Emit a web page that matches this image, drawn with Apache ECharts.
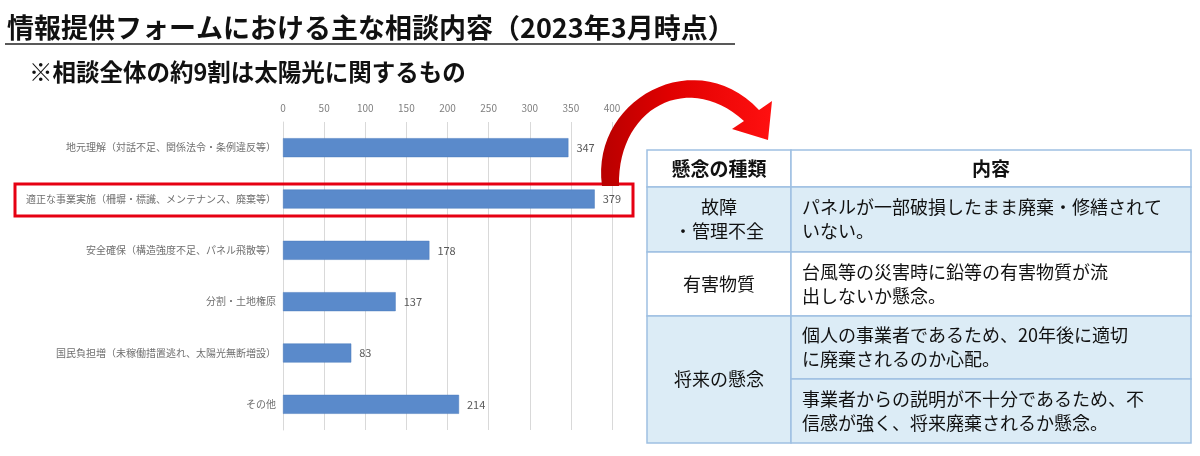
<!DOCTYPE html>
<html>
<head>
<meta charset="utf-8">
<script src="https://cdn.jsdelivr.net/npm/echarts@6/dist/echarts.min.js"></script>
<style>
html,body{margin:0;padding:0;background:#fff;}
#main{width:1200px;height:456px;}
</style>
</head>
<body>
<div id="main"></div>
<script>
// 相談内容の分類と件数
var categories = [
    '地元理解（対話不足、関係法令・条例違反等）',
    '適正な事業実施（柵塀・標識、メンテナンス、廃棄等）',
    '安全確保（構造強度不足、パネル飛散等）',
    '分割・土地権原',
    '国民負担増（未稼働措置逃れ、太陽光無断増設）',
    'その他'
];
var counts = [347, 379, 178, 137, 83, 214];
var tickMax = 400, tickStep = 50;

// 右の表
var tableHead = ['懸念の種類', '内容'];
var tableKinds = ['故障\n・管理不全', '有害物質', '将来の懸念'];
var tableTexts = [
    'パネルが一部破損したまま廃棄・修繕されて\nいない。',
    '台風等の災害時に鉛等の有害物質が流\n出しないか懸念。',
    '個人の事業者であるため、20年後に適切\nに廃棄されるのか心配。',
    '事業者からの説明が不十分であるため、不\n信感が強く、将来廃棄されるか懸念。'
];

var FONT = '"Noto Sans CJK JP", "Noto Sans", sans-serif';
var chart = echarts.init(document.getElementById('main'));

/*表の描画用*/
var tx0 = 647, tx1 = 791, tx2 = 1191;
var rowY = [150, 187, 252, 316, 379, 443];
var lineC = '#9ec0e2', fillC = '#dcecf6';

function cell(x, y, w, h, fill) {
    return {
        type: 'rect', z: 10,
        shape: {x: x, y: y, width: w, height: h},
        style: {fill: fill, stroke: lineC, lineWidth: 1.5}
    };
}
function txt(x, y, s, opt) {
    opt = opt || {};
    return {
        type: 'text', z: 11,
        style: {
            x: x, y: y, text: s,
            font: (opt.bold ? 'bold ' : '') + (opt.size || 18) + 'px ' + FONT,
            fill: '#111',
            textAlign: opt.align || 'left',
            textVerticalAlign: opt.valign || 'middle',
            lineHeight: opt.lh || 24
        }
    };
}

// 矢印の曲線（ベジェ曲線を点列に）
function bez(p0, p1, p2, p3, n) {
    var pts = [];
    for (var k = 0; k <= n; k++) {
        var t = k / n, u = 1 - t;
        pts.push([
            u*u*u*p0[0] + 3*u*u*t*p1[0] + 3*u*t*t*p2[0] + t*t*t*p3[0],
            u*u*u*p0[1] + 3*u*u*t*p1[1] + 3*u*t*t*p2[1] + t*t*t*p3[1]
        ]);
    }
    return pts;
}
var arrowPts = bez([602, 186], [590, 100], [695, 42], [759, 110], 30)
    .concat([[772, 101], [768, 140], [732, 129], [744, 121]])
    .concat(bez([744, 121], [688, 70], [617, 108], [619, 186], 30));

var tableEls = [];
// 背景
tableEls.push(cell(tx0, rowY[0], tx1 - tx0, rowY[1] - rowY[0], '#fff'));
tableEls.push(cell(tx1, rowY[0], tx2 - tx1, rowY[1] - rowY[0], '#fff'));
tableEls.push(cell(tx0, rowY[1], tx1 - tx0, rowY[2] - rowY[1], fillC));
tableEls.push(cell(tx1, rowY[1], tx2 - tx1, rowY[2] - rowY[1], fillC));
tableEls.push(cell(tx0, rowY[2], tx1 - tx0, rowY[3] - rowY[2], '#fff'));
tableEls.push(cell(tx1, rowY[2], tx2 - tx1, rowY[3] - rowY[2], '#fff'));
tableEls.push(cell(tx0, rowY[3], tx1 - tx0, rowY[5] - rowY[3], fillC));
tableEls.push(cell(tx1, rowY[3], tx2 - tx1, rowY[4] - rowY[3], fillC));
tableEls.push(cell(tx1, rowY[4], tx2 - tx1, rowY[5] - rowY[4], fillC));
// 文字
var c0 = (tx0 + tx1) / 2, c1 = (tx1 + tx2) / 2;
tableEls.push(txt(c0, (rowY[0] + rowY[1]) / 2, tableHead[0], {bold: true, align: 'center', size: 19}));
tableEls.push(txt(c1, (rowY[0] + rowY[1]) / 2, tableHead[1], {bold: true, align: 'center', size: 19}));
tableEls.push(txt(c0, (rowY[1] + rowY[2]) / 2, tableKinds[0], {align: 'center'}));
tableEls.push(txt(c0, (rowY[2] + rowY[3]) / 2, tableKinds[1], {align: 'center'}));
tableEls.push(txt(c0, (rowY[3] + rowY[5]) / 2, tableKinds[2], {align: 'center'}));
for (var i = 0; i < tableTexts.length; i++) {
    tableEls.push(txt(tx1 + 11, (rowY[i + 1] + rowY[i + 2]) / 2, tableTexts[i]));
}

var options = {
    backgroundColor: '#fff',
    animation: false,
    grid: {left: 283, top: 122, width: 329, height: 308, containLabel: false},
    xAxis: {
        type: 'value',
        position: 'top',
        min: 0, max: tickMax, interval: tickStep,
        axisLine: {show: false},
        axisTick: {show: false},
        axisLabel: {fontSize: 10, color: '#7f7f7f', margin: 9, fontFamily: FONT},
        splitLine: {lineStyle: {color: '#d9d9d9', width: 1}}
    },
    yAxis: {
        type: 'category',
        inverse: true,
        data: categories,
        axisLine: {show: true, lineStyle: {color: '#d9d9d9'}},
        axisTick: {show: false},
        axisLabel: {fontSize: 10, color: '#6f6f6f', margin: 7, fontFamily: FONT}
    },
    series: [{
        type: 'bar',
        data: counts,
        barWidth: 19,
        itemStyle: {color: '#5a8acb', borderColor: '#4a7bbd', borderWidth: 0.5},
        label: {
            show: true, position: 'right', distance: 8,
            fontSize: 11, color: '#595959', fontFamily: FONT
        }
    }],
    graphic: [
        txt(7, 28, '情報提供フォームにおける主な相談内容（2023年3月時点）', {bold: true, size: 27}),
        {
            type: 'line', z: 5,
            shape: {x1: 5, y1: 44, x2: 735, y2: 44},
            style: {stroke: '#222', lineWidth: 1.5}
        },
        txt(29, 72, '※相談全体の約9割は太陽光に関するもの', {bold: true, size: 23.5}),
        {
            type: 'rect', z: 20,
            shape: {x: 15, y: 184, width: 618, height: 32},
            style: {fill: 'none', stroke: '#e60012', lineWidth: 3}
        },
        {
            type: 'polygon', z: 20,
            shape: {points: arrowPts},
            style: {
                fill: {
                    type: 'linear', x: 0, y: 0, x2: 1, y2: 0,
                    colorStops: [{offset: 0, color: '#b80000'}, {offset: 0.4, color: '#e00000'}, {offset: 1, color: '#ff1010'}]
                }
            }
        }
    ].concat(tableEls)
};

chart.setOption(options);
</script>
</body>
</html>
